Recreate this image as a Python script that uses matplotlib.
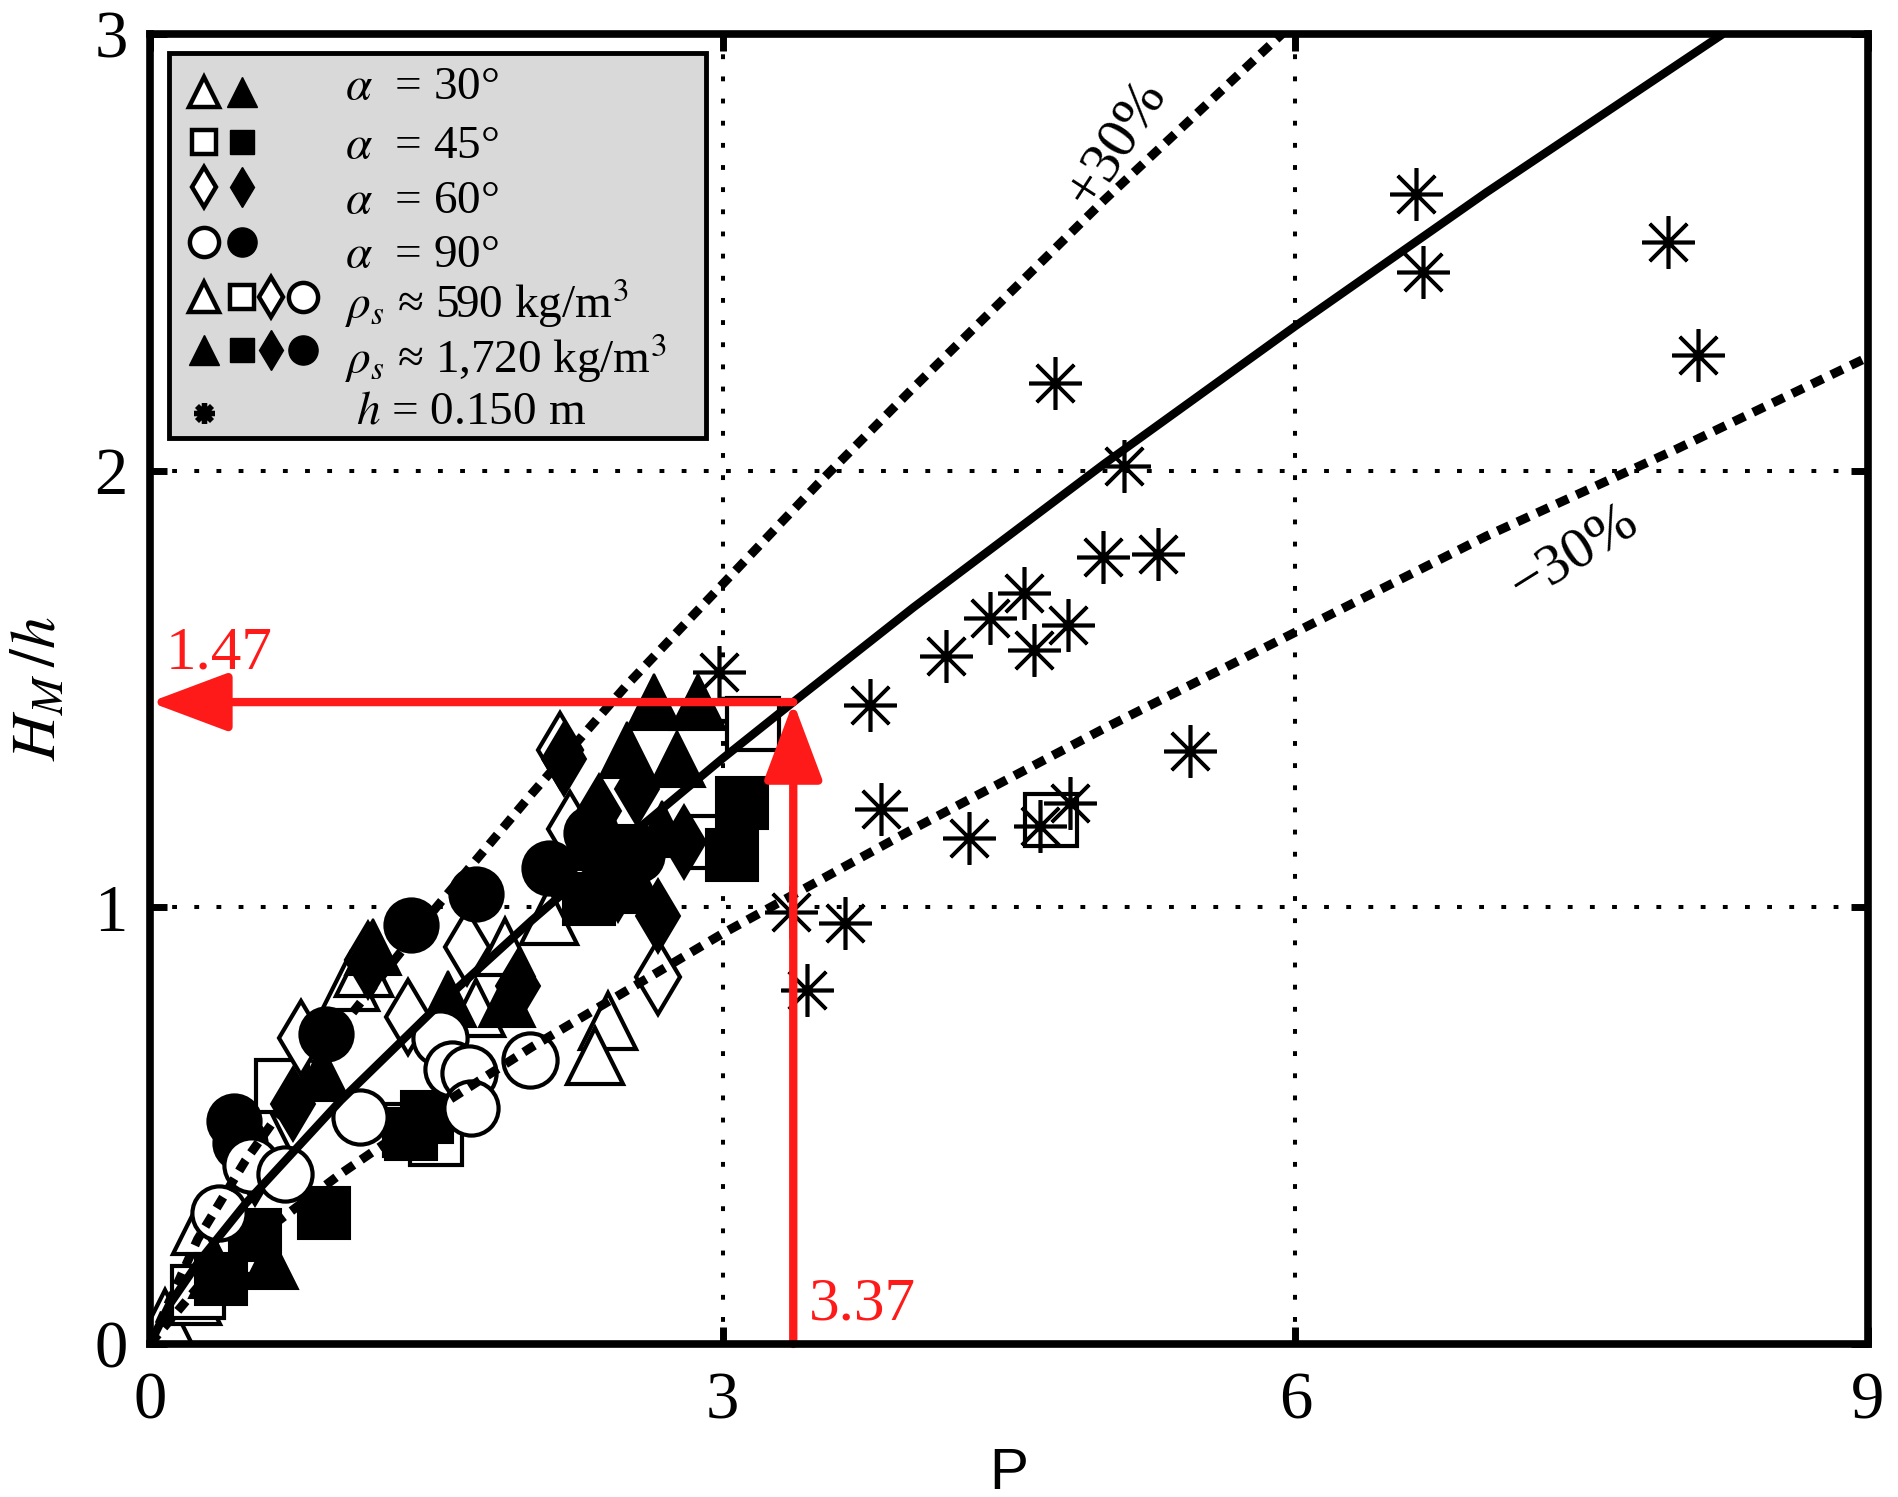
import matplotlib
matplotlib.use("Agg")
import matplotlib.pyplot as plt
from matplotlib.patches import Rectangle

plt.rcParams['font.family'] = 'serif'
plt.rcParams['font.serif'] = ['Liberation Serif', 'DejaVu Serif']
plt.rcParams['mathtext.fontset'] = 'stix'

# ---- data ----
# fitted curve and +/-30% bounds
fit_x = [0, 0.1, 0.25, 0.5, 1, 1.5, 2, 2.5, 3, 3.37, 4, 5, 6, 7, 8.24]
fit_y = [0, 0.089, 0.185, 0.321, 0.558, 0.771, 0.970, 1.159, 1.341, 1.47, 1.687, 2.016, 2.331, 2.637, 3.0]
upper_x = [0, 0.25, 0.5, 1, 1.5, 2, 2.5, 3, 3.5, 4, 5, 5.93]
upper_y = [0, 0.24, 0.42, 0.725, 1.00, 1.26, 1.51, 1.74, 1.97, 2.19, 2.62, 3.0]
lower_x = [0, 0.25, 0.5, 1, 1.5, 2, 2.5, 3, 3.5, 4, 5, 6, 7, 8, 9]
lower_y = [0, 0.13, 0.225, 0.39, 0.54, 0.68, 0.81, 0.94, 1.06, 1.18, 1.41, 1.63, 1.85, 2.05, 2.26]

# alpha = 30 deg (triangles)
tri_open_x = [0.08, 0.22, 0.27, 0.60, 1.05, 1.12, 1.71, 2.09, 2.40, 2.33, 1.86]
tri_open_y = [0.06, 0.11, 0.27, 0.50, 0.83, 0.86, 0.77, 0.98, 0.74, 0.66, 0.91]
tri_fill_x = [0.35, 0.63, 0.90, 1.17, 1.56, 1.87, 2.30, 2.50, 2.64, 2.76, 2.87, 2.55, 2.40, 2.68]
tri_fill_y = [0.17, 0.19, 0.62, 0.91, 0.79, 0.79, 1.15, 1.36, 1.47, 1.34, 1.47, 1.05, 1.06, 1.18]
# alpha = 45 deg (squares)
sq_open_x = [0.25, 0.47, 0.69, 1.36, 1.50, 2.95, 3.16, 4.72]
sq_open_y = [0.12, 0.22, 0.59, 0.49, 0.47, 1.15, 1.42, 1.20]
sq_fill_x = [0.37, 0.55, 0.91, 1.37, 1.45, 2.30, 2.47, 3.05, 3.10]
sq_fill_y = [0.15, 0.25, 0.30, 0.48, 0.52, 1.02, 1.13, 1.12, 1.24]
# alpha = 60 deg (diamonds)
dia_open_x = [0.40, 0.79, 1.14, 1.66, 2.15, 2.20, 2.66, 1.35]
dia_open_y = [0.26, 0.70, 0.88, 0.91, 1.36, 1.18, 0.84, 0.75]
dia_fill_x = [0.55, 0.75, 1.16, 1.93, 2.17, 2.35, 2.45, 2.55, 2.66, 2.80]
dia_fill_y = [0.40, 0.55, 0.88, 0.82, 1.34, 1.22, 1.05, 1.27, 0.98, 1.15]
# alpha = 90 deg (circles)
circ_open_x = [0.36, 0.53, 0.71, 1.10, 1.52, 1.58, 1.67, 1.68, 1.99]
circ_open_y = [0.30, 0.41, 0.39, 0.52, 0.70, 0.63, 0.62, 0.54, 0.65]
circ_fill_x = [0.44, 0.47, 0.92, 1.37, 1.71, 2.09, 2.31, 2.55]
circ_fill_y = [0.51, 0.46, 0.71, 0.96, 1.03, 1.09, 1.17, 1.12]
# h = 0.150 m (asterisks)
ast_x = [2.98, 3.36, 3.44, 3.64, 3.83, 3.77, 4.17, 4.29, 4.40, 4.58, 4.63, 4.66,
         4.82, 4.81, 4.74, 4.99, 5.10, 5.28, 5.45, 6.63, 6.67, 7.95, 8.11]
ast_y = [1.54, 0.99, 0.81, 0.965, 1.225, 1.464, 1.575, 1.159, 1.663, 1.719, 1.589, 1.187,
         1.239, 1.647, 2.201, 1.802, 2.01, 1.81, 1.358, 2.634, 2.454, 2.523, 2.265]

p_read = 3.37
h_read = 1.47

red = '#ff1a1a'
ast_marker = (8, 2, 0)

fig = plt.figure(figsize=(18.98, 14.97), dpi=100)
ax = fig.add_axes([0.0790, 0.1022, 0.9052, 0.8751])

open_kw = dict(linestyle='none', markerfacecolor='white', markeredgecolor='black', markeredgewidth=3)
fill_kw = dict(linestyle='none', markerfacecolor='black', markeredgecolor='black', markeredgewidth=1.5)

ax.plot(tri_open_x, tri_open_y, marker='^', markersize=41, **open_kw)
ax.plot(sq_open_x, sq_open_y, marker='s', markersize=37, **open_kw)
ax.plot(dia_open_x, dia_open_y, marker='d', markersize=38, **open_kw)
ax.plot(tri_fill_x, tri_fill_y, marker='^', markersize=41, **fill_kw)
ax.plot(sq_fill_x, sq_fill_y, marker='s', markersize=37, **fill_kw)
ax.plot(dia_fill_x, dia_fill_y, marker='d', markersize=38, **fill_kw)
ax.plot(circ_fill_x, circ_fill_y, marker='o', markersize=39, **fill_kw)
ax.plot(circ_open_x, circ_open_y, marker='o', markersize=39, **open_kw)
ax.plot(ast_x, ast_y, linestyle='none', marker=ast_marker, markersize=38,
        markeredgewidth=2.6, color='black')

# curves
ax.plot(fit_x, fit_y, color='black', linewidth=6, solid_capstyle='butt', zorder=4)
ax.plot(upper_x, upper_y, color='black', linewidth=6.5, linestyle=(0, (1.4, 1.0)),
        dash_capstyle='butt', zorder=4)
ax.plot(lower_x, lower_y, color='black', linewidth=6.5, linestyle=(0, (1.4, 1.0)),
        dash_capstyle='butt', zorder=4)

ax.text(5.06, 2.75, '+30%', fontsize=42, rotation=57, ha='center', va='center')
ax.text(7.46, 1.81, '\u221230%', fontsize=42, rotation=32, ha='center', va='center')

# red read-off arrows
arrow_style = '-|>,head_length=2.4,head_width=0.9'
ax.annotate('', xy=(0, h_read), xytext=(p_read, h_read),
            arrowprops=dict(arrowstyle=arrow_style, color=red, lw=6, mutation_scale=20,
                            shrinkA=0, shrinkB=0), zorder=6)
ax.annotate('', xy=(p_read, h_read), xytext=(p_read, 0),
            arrowprops=dict(arrowstyle=arrow_style, color=red, lw=6, mutation_scale=20,
                            shrinkA=0, shrinkB=0), zorder=6)
ax.text(0.36, 1.58, '%.2f' % h_read, color=red, fontsize=44, ha='center', va='center')
ax.text(3.45, 0.09, '%.2f' % p_read, color=red, fontsize=44, ha='left', va='center')

# axes styling (matlab look)
ax.set_xlim(0, 9)
ax.set_ylim(0, 3)
ax.set_xticks([0, 3, 6, 9])
ax.set_yticks([0, 1, 2, 3])
ax.grid(True, color='black', linestyle=(0, (1.2, 4.3)), linewidth=2.9)
ax.set_axisbelow(True)
ax.tick_params(direction='in', length=12, width=5, top=True, right=True,
               labelsize=48, pad=20)
ax.tick_params(axis='y', pad=16)
for s in ax.spines.values():
    s.set_linewidth(5.5)
    s.set_zorder(7)

ax.set_xlabel('P', fontsize=42, family='Liberation Sans', labelpad=10)
ax.set_ylabel(r'$H_M\,/h$', fontsize=46, labelpad=18)

# hand-made legend box
ax.add_patch(Rectangle((0.011, 0.6916), 0.3126, 0.2939, transform=ax.transAxes,
                       facecolor='#d9d9d9', edgecolor='black', linewidth=3.5, zorder=8))

leg_open = dict(linestyle='none', markerfacecolor='white', markeredgecolor='black',
                markeredgewidth=3.2, transform=ax.transAxes, zorder=9, clip_on=False)
leg_fill = dict(linestyle='none', markerfacecolor='black', markeredgecolor='black',
                markeredgewidth=1, transform=ax.transAxes, zorder=9, clip_on=False)
leg_shapes = [('^', 21), ('s', 17), ('d', 20), ('o', 21)]
leg_rows = [0.9557, 0.9176, 0.8832, 0.8412]
for (m, ms), yy in zip(leg_shapes, leg_rows):
    ax.plot([0.0314], [yy], marker=m, markersize=ms, **leg_open)
    ax.plot([0.0536], [yy], marker=m, markersize=ms, **leg_fill)
for (m, ms), xx in zip(leg_shapes, [0.0314, 0.0536, 0.0704, 0.0891]):
    ax.plot([xx], [0.7992], marker=m, markersize=ms, **leg_open)
    ax.plot([xx], [0.7588], marker=m, markersize=ms, **leg_fill)
ax.plot([0.0314], [0.7107], linestyle='none', marker=ast_marker, markersize=15,
        markeredgewidth=3.8, color='black', transform=ax.transAxes, zorder=9, clip_on=False)

leg_texts = ['$\\alpha$  = 30°', '$\\alpha$  = 45°', '$\\alpha$  = 60°', '$\\alpha$  = 90°',
             '$\\rho_s$ ≈ 590 kg/m$^3$', '$\\rho_s$ ≈ 1,720 kg/m$^3$', '$h$ = 0.150 m']
leg_text_y = [0.9588, 0.9137, 0.8718, 0.8305, 0.7944, 0.7527, 0.7115]
leg_text_x = [0.1135] * 6 + [0.12]
for t, xx, yy in zip(leg_texts, leg_text_x, leg_text_y):
    ax.text(xx, yy, t, fontsize=34, ha='left', va='center', transform=ax.transAxes, zorder=9)

fig.savefig('out.png', dpi=100)
